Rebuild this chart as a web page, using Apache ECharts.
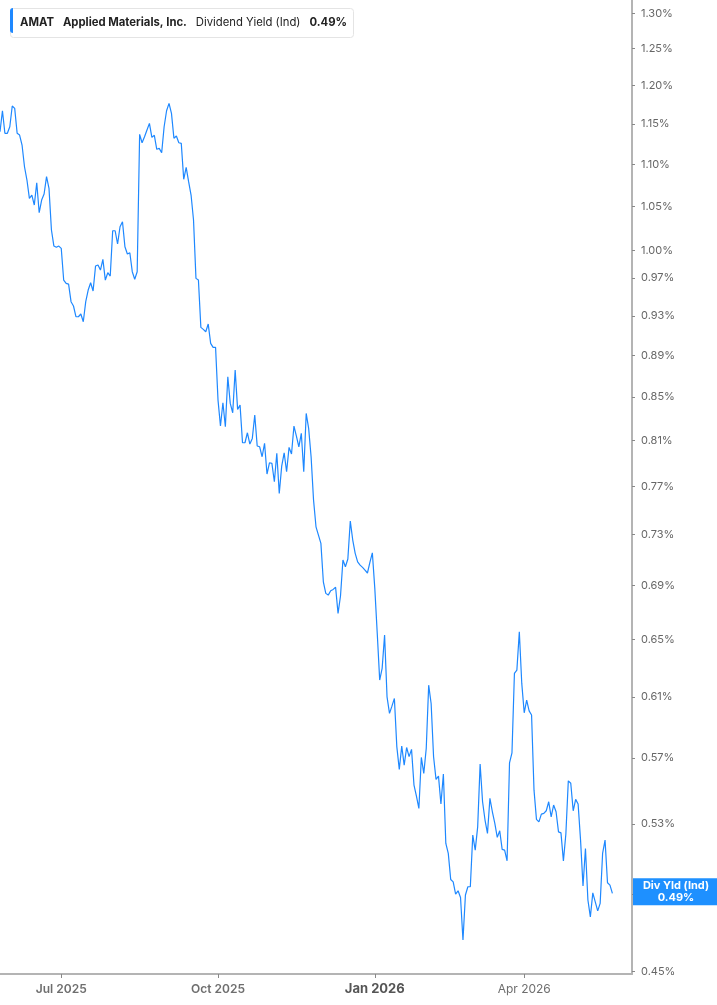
<!DOCTYPE html>
<html><head><meta charset="utf-8">
<script src="https://cdn.jsdelivr.net/npm/echarts@6/dist/echarts.min.js"></script>
<style>html,body{margin:0;padding:0;background:#fff}#c{width:717px;height:1005px}</style>
</head><body><div id="c"></div>
<script>
// ---- data ----
const startDate = '2025-05-23';
const marketHolidays = ['2025-05-26','2025-06-19','2025-07-04','2025-09-01','2025-11-27','2025-12-25',
  '2026-01-01','2026-01-19','2026-02-16','2026-04-03','2026-05-25'];
const trailingSlots = 8;
const yieldValues = [
1.1403,1.1671,1.1383,1.1383,1.1466,1.1732,1.1702,1.1383,1.1361,1.1236,
1.0969,1.0809,1.0592,1.0631,1.0514,1.0777,1.0425,1.0572,1.0643,1.0849,
1.0710,1.0227,1.0047,1.0033,1.0047,1.0022,0.9676,0.9641,0.9633,0.9447,
0.9402,0.9291,0.9291,0.9319,0.9240,0.9447,0.9570,0.9647,0.9559,0.9827,
0.9838,0.9784,0.9900,0.9676,0.9755,0.9719,1.0219,1.0219,1.0070,1.0264,
1.0321,1.0040,0.9959,0.9973,0.9766,0.9684,0.9766,1.1370,1.1265,1.1340,
1.1424,1.1509,1.1332,1.1358,1.1183,1.1195,1.1141,1.1466,1.1671,1.1767,
1.1637,1.1320,1.1349,1.1265,1.1257,1.0818,1.0962,1.0789,1.0631,1.0341,
0.9694,0.9676,0.9182,0.9162,0.9138,0.9216,0.9021,0.8981,0.8981,0.8472,
0.8232,0.8447,0.8225,0.8694,0.8441,0.8354,0.8758,0.8385,0.8425,0.8081,
0.8081,0.8171,0.8069,0.8120,0.8333,0.8052,0.8045,0.7957,0.8076,0.7806,
0.7904,0.7899,0.7740,0.7987,0.7641,0.7875,0.7992,0.7826,0.8040,0.7981,
0.8232,0.8141,0.8045,0.8166,0.7826,0.8348,0.8211,0.7957,0.7584,0.7363,
0.7296,0.7229,0.6928,0.6840,0.6827,0.6860,0.6870,0.6886,0.6690,0.6820,
0.7097,0.7045,0.7105,0.7410,0.7256,0.7150,0.7083,0.7057,0.7040,0.7019,
0.6996,0.7078,0.7154,0.6880,0.6544,0.6214,0.6295,0.6532,0.6100,0.5989,
0.6037,0.6089,0.5771,0.5629,0.5776,0.5656,0.5767,0.5709,0.5755,0.5532,
0.5465,0.5391,0.5704,0.5604,0.5761,0.6179,0.6055,0.5708,0.5567,0.5587,
0.5417,0.5600,0.5186,0.5129,0.4983,0.4970,0.4903,0.4921,0.4885,0.4660,
0.4898,0.4943,0.4943,0.5234,0.5148,0.5282,0.5662,0.5431,0.5322,0.5244,
0.5451,0.5371,0.5302,0.5221,0.5259,0.5152,0.5148,0.5087,0.5670,0.5733,
0.6260,0.6283,0.6556,0.6191,0.5993,0.6078,0.6006,0.5978,0.5501,0.5326,
0.5311,0.5357,0.5361,0.5377,0.5431,0.5341,0.5411,0.5371,0.5253,0.5247,
0.5087,0.5240,0.5558,0.5543,0.5377,0.5445,0.5417,0.5205,0.4947,0.5157,
0.4871,0.4781,0.4910,0.4861,0.4813,0.4853,0.5129,0.5205,0.4965,0.4952,
0.4907];
const yTickValues = [1.30,1.25,1.20,1.15,1.10,1.05,1.00,0.97,0.93,0.89,0.85,0.81,0.77,0.73,0.69,0.65,0.61,0.57,0.53,0.49,0.45];
const yRange = [0.4488, 1.3193];
const labelMonths = ['Jul','Oct','Jan','Apr'];
const monthNames = ['Jan','Feb','Mar','Apr','May','Jun','Jul','Aug','Sep','Oct','Nov','Dec'];
const legendTicker = 'AMAT';
const legendName = 'Applied Materials, Inc.';
const legendMetric = 'Dividend Yield (Ind)';
const badgeTitle = 'Div Yld (Ind)';

// ---- build trading-day categories ----
const hol = new Set(marketHolidays);
const dates = [];
let d = new Date(startDate + 'T00:00:00Z');
while (dates.length < yieldValues.length + trailingSlots) {
  const iso = d.toISOString().slice(0, 10);
  const wd = d.getUTCDay();
  if (wd !== 0 && wd !== 6 && !hol.has(iso)) dates.push(iso);
  d = new Date(d.getTime() + 86400000);
}
const labelIdx = new Set();
for (let i = 1; i < dates.length; i++) {
  const m = +dates[i].slice(5, 7) - 1, pm = +dates[i - 1].slice(5, 7) - 1;
  if (m !== pm && labelMonths.includes(monthNames[m])) labelIdx.add(i);
}
const lastVal = yieldValues[yieldValues.length - 1];
const FONT = 'Inter, "Noto Sans", sans-serif';

const chart = echarts.init(document.getElementById('c'), null, {renderer: 'canvas'});
chart.setOption({
  backgroundColor: '#fff',
  animation: false,
  title: {
    left: 10, top: 8,
    text: '{b|' + legendTicker + '}{g|}{b|' + legendName + '}{g|}{n|' + legendMetric + '}{g|}{b|' + lastVal.toFixed(2) + '%}',
    padding: [6, 7, 6, 10],
    backgroundColor: '#fff', borderColor: '#e4e4e4', borderWidth: 1, borderRadius: 3,
    textStyle: {
      rich: {
        b: {fontFamily: FONT, fontSize: 11.3, fontWeight: 'bold', color: '#222'},
        n: {fontFamily: FONT, fontSize: 11.3, fontWeight: 'normal', color: '#222'},
        g: {width: 9}
      }
    }
  },
  graphic: [{
    type: 'rect', left: 10, top: 8, z: 100,
    shape: {width: 3, height: 25, r: [3, 0, 0, 3]},
    style: {fill: '#1e88ff'}
  }],
  grid: {left: 0, right: 85, top: 0, bottom: 31, containLabel: false},
  xAxis: {
    type: 'category', data: dates, boundaryGap: false,
    axisLine: {onZero: false, lineStyle: {color: '#b4b4b4', width: 2}},
    axisTick: {interval: (i) => labelIdx.has(i), length: 4, lineStyle: {color: '#888'}},
    axisLabel: {
      interval: (i) => labelIdx.has(i), margin: 9,
      formatter: (v) => {
        const m = monthNames[+v.slice(5, 7) - 1], y = v.slice(0, 4);
        const t = m + ' ' + y;
        if (m === 'Jan') return '{j|' + t + '}';
        if (m === 'Apr') return '{r|' + t + '}';
        return '{s|' + t + '}';
      },
      rich: {
        j: {fontFamily: FONT, fontSize: 13, fontWeight: 'bold', color: '#555'},
        s: {fontFamily: FONT, fontSize: 12, fontWeight: 600, color: '#6e6e6e'},
        r: {fontFamily: FONT, fontSize: 12, fontWeight: 'normal', color: '#6e6e6e'}
      }
    },
    splitLine: {show: false}
  },
  yAxis: {
    type: 'value', position: 'right',
    min: Math.log(yRange[0]), max: Math.log(yRange[1]),
    axisLine: {show: true, lineStyle: {color: '#b4b4b4', width: 2}},
    axisTick: {show: true, customValues: yTickValues.map(Math.log), length: 3, lineStyle: {color: '#888'}},
    axisLabel: {
      customValues: yTickValues.map(Math.log), margin: 9,
      fontFamily: FONT, fontSize: 11, color: '#666',
      formatter: (v) => Math.exp(v).toFixed(2) + '%'
    },
    splitLine: {show: false}
  },
  series: [{
    type: 'line',
    data: yieldValues.map(Math.log),
    showSymbol: false,
    lineStyle: {color: '#1e88ff', width: 1.2},
    z: 3,
    markLine: {
      silent: true, symbol: ['none', 'none'],
      lineStyle: {color: 'rgba(0,0,0,0)', width: 1, type: 'solid'},
      data: [{yAxis: Math.log(lastVal)}],
      label: {
        show: true,
        position: 'end', distance: 1,
        backgroundColor: '#1e90ff',
        padding: [1, 0, 1, 0],
        formatter: '{a|' + badgeTitle + '}\n{a|' + lastVal.toFixed(2) + '%}',
        rich: {a: {width: 86, align: 'center', color: '#fff', fontFamily: FONT, fontSize: 11, fontWeight: 'bold', lineHeight: 12.5}}
      }
    }
  }]
});
</script>
</body></html>
